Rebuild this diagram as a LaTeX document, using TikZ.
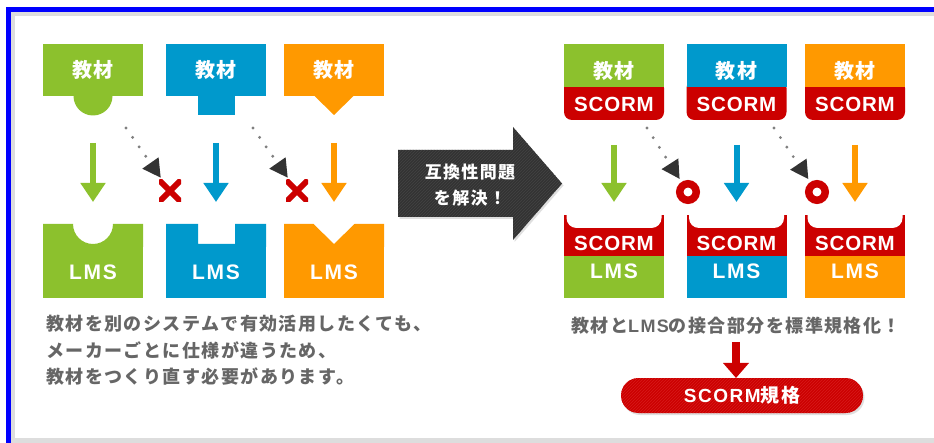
\documentclass[tikz,border=0pt]{standalone}
\usepackage{fontspec}
\setmainfont{Noto Sans CJK JP}
\newfontfamily\jpls{Noto Sans CJK JP}[LetterSpace=8]
\newfontfamily\latf{Liberation Sans}[LetterSpace=8]
\newfontfamily\latn{Liberation Sans}[LetterSpace=4]
\usetikzlibrary{arrows.meta,patterns,shadows}
\definecolor{cgreen}{HTML}{8CC12D}
\definecolor{cblue}{HTML}{0099CC}
\definecolor{corange}{HTML}{FF9900}
\definecolor{cred}{HTML}{CC0000}
\definecolor{cdark}{HTML}{333333}
\definecolor{cstripe}{HTML}{444444}
\definecolor{cstripered}{HTML}{D81A1A}
\definecolor{ctext}{HTML}{666666}
\definecolor{cdot}{HTML}{808080}
\definecolor{cframe}{HTML}{0000FF}
\definecolor{cgray}{HTML}{DDDDDD}
\newcommand\myfs[1]{\fontsize{#1}{#1}\selectfont}
\begin{document}
\begin{tikzpicture}[x=1pt,y=-1pt,
  wtxt/.style={text=white, font=\bfseries\jpls\myfs{20}, inner sep=0pt, outer sep=0pt},
  ltxt/.style={text=white, font=\bfseries\latf\myfs{21}, inner sep=0pt, outer sep=0pt},
  tile/.style={wtxt, minimum width=100pt, minimum height=52pt},
  ltile/.style={ltxt, minimum width=100pt, minimum height=52pt},
  band/.style={ltxt, font=\bfseries\latn\myfs{20.5}, minimum width=100pt, minimum height=28pt},
  colarrow/.style={line width=6pt, -{Triangle[length=19pt,width=24pt]}},
  dotline/.style={cdot, line width=3.2pt, line cap=round, dash pattern=on 0pt off 11.5pt,
    -{Triangle[length=18pt,width=19pt,color=cdark]}},
  xmark/.style={minimum size=22pt, inner sep=0pt, path picture={
    \draw[cred, line width=6pt] (path picture bounding box.north west) -- (path picture bounding box.south east)
      (path picture bounding box.north east) -- (path picture bounding box.south west);}},
  omark/.style={circle, draw=cred, line width=7.5pt, minimum size=16.5pt, inner sep=0pt},
  stripes/.style={postaction={pattern=north east lines, pattern color=#1}},
  softshadow/.style={drop shadow={opacity=0.25, shadow xshift=1.5pt, shadow yshift=-2pt}},
]
% frame
\useasboundingbox (0,0) rectangle (934,443);
\fill[white] (0,0) rectangle (934,443);
\fill[cgray] (11,12) rectangle (934,443);
\fill[white] (15,16.5) rectangle (934,438);
\fill[cframe] (6,7) rectangle (934,12);
\fill[cframe] (6,7) rectangle (11,443);

% ---------- left: incompatible ----------
\node[tile, fill=cgreen]  (k1) at (93,70)  {教材};
\node[tile, fill=cblue]   (k2) at (216,70) {教材};
\node[tile, fill=corange] (k3) at (334,70) {教材};
\fill[cgreen] (k1.south) ++(-19.5,0) arc[start angle=180, end angle=360, radius=19.5pt] -- cycle;
\fill[cblue] (k2.south) ++(-18.5,0) rectangle ++(37,19);
\fill[corange] (k3.south) ++(-19.5,0) -- ++(39,0) -- ++(-19.5,19) -- cycle;

\fill[cgreen] (43,247) -- (43,224) -- (73,224) arc[start angle=180, end angle=360, radius=20pt] -- (143,224) -- (143,247) -- cycle;
\fill[cblue] (166,247) -- (166,224) -- (198,224) -- (198,244) -- (235,244) -- (235,224) -- (266,224) -- (266,247) -- cycle;
\fill[corange] (284,247) -- (284,224) -- (313.5,224) -- (334,244) -- (354.5,224) -- (384,224) -- (384,247) -- cycle;
\node[ltile, fill=cgreen]  (l1) at (93,272)  {LMS};
\node[ltile, fill=cblue]   (l2) at (216,272) {LMS};
\node[ltile, fill=corange] (l3) at (334,272) {LMS};

\draw[colarrow, cgreen,  shorten <=47pt, shorten >=44pt] (k1) -- (l1);
\draw[colarrow, cblue,   shorten <=47pt, shorten >=44pt] (k2) -- (l2);
\draw[colarrow, corange, shorten <=47pt, shorten >=44pt] (k3) -- (l3);

\coordinate (a1) at (126,128);
\coordinate (a2) at (253,128);
\node[xmark] (x1) at (170,191) {};
\node[xmark] (x2) at (297,191) {};
\draw[dotline, shorten >=2.5pt] (a1) -- (x1);
\draw[dotline, shorten >=2.5pt] (a2) -- (x2);

\node[anchor=north west, align=left, text=ctext, font=\bfseries\jpls\fontsize{18}{26.5}\selectfont, inner sep=0pt] (cap1) at (46,315)
  {教材を別のシステムで有効活用したくても、\\メーカーごとに仕様が違うため、\\教材をつくり直す必要があります。};

% ---------- middle arrow ----------
\path[fill=cdark, softshadow, stripes=cstripe] (398,150) -- (513,150) -- (513,127) -- (562,183.5) -- (513,240) -- (513,217) -- (398,217) -- cycle;
\node[wtxt, font=\bfseries\jpls\fontsize{17}{26}\selectfont, align=center] (mid) at (470,185) {互換性問題\\を解決！};

% ---------- right: SCORM ----------
\foreach \col/\cx/\n in {cgreen/614/1, cblue/736.5/2, corange/855/3} {
  \fill[cred, rounded corners=8pt] (\cx-50,80) rectangle (\cx+50,120);
  \fill[\col] (\cx-50,44) rectangle (\cx+50,87);
  \node[wtxt] (r\n) at (\cx,70.5) {教材};
  \node[band, minimum height=33pt] (s\n) at (\cx,104) {SCORM};
  \fill[cred] (\cx-50,215) rectangle (\cx+50,256);
  \fill[white, rounded corners=10pt] (\cx-47.5,205) rectangle (\cx+47.5,228);
  \fill[\col] (\cx-50,256) rectangle (\cx+50,298);
  \node[band] (t\n) at (\cx,243) {SCORM};
  \node[ltxt] (m\n) at (\cx,271.5) {LMS};
  \draw[colarrow, \col, shorten <=24.5pt, shorten >=27pt] (s\n) -- (t\n);
}

\coordinate (b1) at (647,128);
\coordinate (b2) at (774,128);
\node[omark] (o1) at (688,192) {};
\node[omark] (o2) at (817,192) {};
\draw[dotline, shorten >=3.5pt] (b1) -- (o1);
\draw[dotline, shorten >=3.5pt] (b2) -- (o2);

\node[text=ctext, font=\bfseries\jpls\myfs{18}, inner sep=0pt] (cap2) at (736,326) {教材と{\latf LMS}の接合部分を標準規格化！};
\node[ltxt, font=\bfseries\myfs{19}, fill=cred, rounded corners=17.5pt, minimum width=242pt, minimum height=35pt,
      softshadow, stripes=cstripered] (pill) at (742,395.5) {{\latf SCORM}{\jpls 規格}};
\draw[cred, line width=8pt, -{Triangle[length=15pt,width=25pt]}, shorten <=7pt] (cap2.south) -- (cap2.south |- pill.north);
\end{tikzpicture}
\end{document}
